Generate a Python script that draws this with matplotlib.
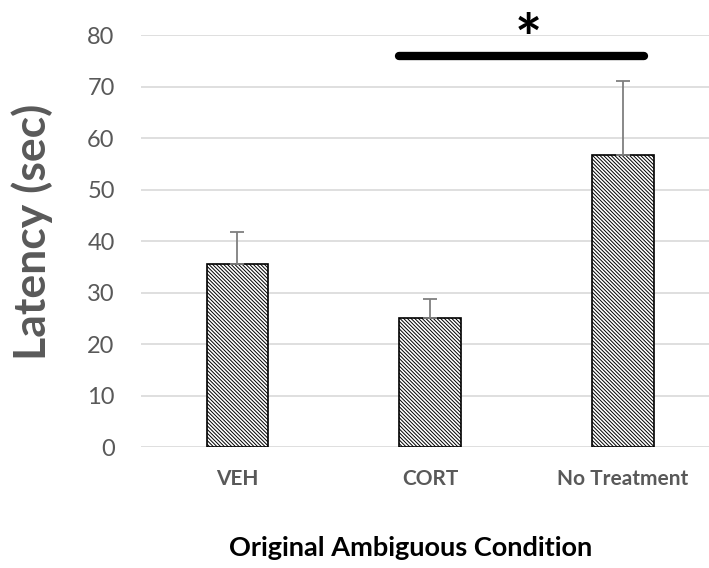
import numpy as np
import matplotlib
matplotlib.use("Agg")
import matplotlib.pyplot as plt

# Latency by original ambiguous condition
groups = ["VEH", "CORT", "No Treatment"]
latency = [35.5, 25.0, 56.7]
sem = [6.2, 3.7, 14.4]
sig_pair = (1, 2)
sig_level = 76

plt.rcParams['font.family'] = ['Lato', 'DejaVu Sans']
plt.rcParams['hatch.linewidth'] = 0.7
plt.rcParams['hatch.color'] = '#222222'

fig = plt.figure(figsize=(7.09, 5.68), dpi=100)
ax = fig.add_axes([0.199, 0.213, 0.801, 0.725])

x = np.arange(len(groups))
ax.bar(x, latency, width=0.32, color="white", edgecolor="black",
       linewidth=1.2, hatch="\\" * 9, zorder=2)
ax.errorbar(x, latency, yerr=[np.zeros(len(sem)), sem], fmt="none",
            ecolor="#7f7f7f", elinewidth=1.3, capsize=5, capthick=1.3, zorder=3)

# significance bar
ax.plot([sig_pair[0] - 0.16, sig_pair[1] + 0.11], [sig_level, sig_level],
        color="black", linewidth=6, solid_capstyle="round", clip_on=False, zorder=4)
ax.text(1.51, sig_level + 2.5, "*", ha="center", va="center",
        fontsize=46, fontweight="bold", color="black", clip_on=False)

ax.set_ylim(0, 80)
ax.set_xlim(-0.5, 2.447)
ax.set_yticks(range(0, 81, 10))
ax.set_xticks(x)
ax.set_xticklabels(groups, fontsize=15, fontweight="bold", color="#595959")
ax.tick_params(axis="y", labelsize=17, labelcolor="#595959", length=0, pad=19)
ax.tick_params(axis="x", length=0, pad=16)
ax.grid(axis="y", color="#d9d9d9", linewidth=1.2, zorder=0)
ax.set_axisbelow(True)
for s in ax.spines.values():
    s.set_visible(False)

ax.set_ylabel("Latency (sec)", fontsize=32, fontweight="bold", color="#595959")
ax.yaxis.set_label_coords(-0.155, 0.522)
ax.set_xlabel("Original Ambiguous Condition", fontsize=19.5, fontweight="bold",
              color="black")
ax.xaxis.set_label_coords(0.474, -0.215)

fig.savefig("out.png", dpi=100)
